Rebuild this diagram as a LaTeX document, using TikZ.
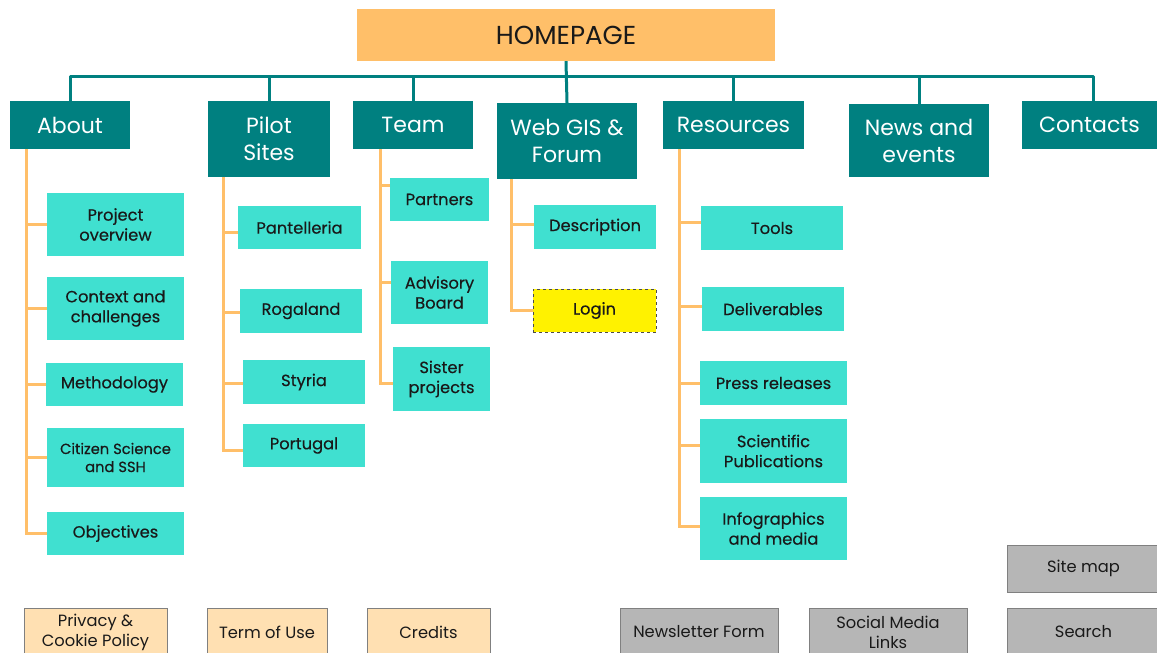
\documentclass[tikz,border=0pt]{standalone}
\usepackage{fontspec}
\setmainfont{Poppins}
\newfontfamily\popmed{Poppins}[FakeBold=0.4]
\definecolor{teal}{RGB}{0,128,128}
\definecolor{turq}{RGB}{64,224,208}
\definecolor{orng}{RGB}{255,191,105}
\definecolor{beige}{RGB}{255,224,178}
\definecolor{greybox}{RGB}{182,182,182}
\definecolor{txt}{RGB}{25,25,25}
\newcommand{\bx}[7]{\node[#1, minimum width={(#4-#2)*1pt}, minimum height={(#5-#3)*1pt}] (#6) at ({(#2+#4)/2},{(#3+#5)/2}) {#7};}
\tikzset{
  x=1pt, y=-1pt,
  base/.style={rectangle, inner sep=0pt, align=center, text=txt},
  home/.style={base, fill=orng, font=\fontsize{26}{30}\selectfont},
  head/.style={base, fill=teal, text=white, font=\fontsize{22}{27}\selectfont},
  child/.style={base, fill=turq, font=\popmed\fontsize{16.3}{20}\selectfont},
  smallchild/.style={child, font=\popmed\fontsize{14.7}{18}\selectfont},
  login/.style={child, fill=yellow, draw=black!70, dashed, line width=0.6pt},
  foot/.style={base, fill=beige, draw=black!50, line width=0.8pt, font=\fontsize{16.3}{20}\selectfont},
  grey/.style={base, fill=greybox, draw=black!50, line width=0.8pt, font=\fontsize{16.3}{20}\selectfont},
  bar/.style={teal, line width=3pt},
  spine/.style={orng, line width=3pt},
}
\begin{document}
\begin{tikzpicture}
\useasboundingbox (0,0) rectangle (1157,653);
% homepage and headers
\bx{home}{357}{9}{775}{61}{home}{HOMEPAGE}
\bx{head}{10}{101}{130}{149}{about}{About}
\bx{head}{208}{101}{330}{177}{pilot}{Pilot\\Sites}
\bx{head}{353}{101}{473}{149}{team}{Team}
\bx{head}{497}{103}{637}{179}{webgis}{Web GIS \&\\Forum}
\bx{head}{663}{101}{804}{149}{res}{Resources}
\bx{head}{849}{104}{989}{177}{news}{News and\\events}
\bx{head}{1022}{101}{1157}{149}{contacts}{Contacts}
% children About
\bx{child}{47}{193}{184}{256}{po}{Project\\overview}
\bx{child}{47}{277}{184}{340}{cc}{Context and\\challenges}
\bx{child}{46}{363}{183}{406}{meth}{Methodology}
\bx{smallchild}{47}{428}{184}{487}{cs}{Citizen Science\\and SSH}
\bx{child}{47}{512}{184}{555}{obj}{Objectives}
% Pilot Sites
\bx{child}{238}{206}{361}{249}{pant}{Pantelleria}
\bx{child}{240}{289}{362}{333}{roga}{Rogaland}
\bx{child}{243}{360}{365}{404}{styr}{Styria}
\bx{child}{243}{424}{365}{467}{port}{Portugal}
% Team
\bx{child}{390}{178}{489}{221}{part}{Partners}
\bx{child}{391}{261}{488}{324}{adv}{Advisory\\Board}
\bx{child}{393}{347}{490}{411}{sis}{Sister\\projects}
% Web GIS
\bx{child}{534}{205}{656}{249}{desc}{Description}
\bx{login}{533}{289}{656}{332}{log}{Login}
% Resources
\bx{child}{701}{206}{843}{250}{tools}{Tools}
\bx{child}{702}{287}{844}{331}{deliv}{Deliverables}
\bx{child}{700}{361}{847}{405}{press}{Press releases}
\bx{child}{700}{419}{847}{483}{sci}{Scientific\\Publications}
\bx{child}{700}{497}{847}{560}{info}{Infographics\\and media}
% footer
\bx{foot}{24}{608}{167}{656}{priv}{Privacy \&\\Cookie Policy}
\bx{foot}{207}{608}{327}{656}{term}{Term of Use}
\bx{foot}{367}{608}{490}{656}{cred}{Credits}
\bx{grey}{620}{608}{778}{656}{newsl}{Newsletter Form}
\bx{grey}{809}{608}{967}{656}{social}{Social Media\\Links}
\bx{grey}{1007}{545}{1160}{592}{sitemap}{Site map}
\bx{grey}{1007}{608}{1160}{656}{search}{Search}
% top bar
\coordinate (bar) at (0,76);
\draw[bar] (home.south) -- (webgis.north);
\draw[bar, line join=round] (about.north) -- (about.north |- bar) -- ([xshift=3.5pt]contacts.north |- bar) -- ([xshift=3.5pt]contacts.north);
\foreach \h in {pilot,team,res,news}{\draw[bar] (\h.north) -- (\h.north |- bar);}
% spines
\coordinate (sa) at (26,149);
\coordinate (sp) at (223,177);
\coordinate (st) at (380,149);
\coordinate (sw) at (511,179);
\coordinate (sr) at (679,149);
\draw[spine] (sa) |- (obj.west);
\foreach \c in {po,cc,meth,cs}{\draw[spine] (\c.west) -- (\c.west -| sa);}
\draw[spine] (sp) |- ([yshift=-5pt]port.west);
\foreach \c/\s in {pant/-5,roga/-1,styr/-1}{\draw[spine] ([yshift=\s pt]\c.west) -- ([yshift=\s pt]\c.west -| sp);}
\draw[spine] (st) |- ([yshift=-4pt]sis.west);
\foreach \c/\s in {part/14,adv/10}{\draw[spine] ([yshift=\s pt]\c.west) -- ([yshift=\s pt]\c.west -| st);}
\draw[spine] (sw) |- (log.west);
\draw[spine] ([yshift=3pt]desc.west) -- ([yshift=3pt]desc.west -| sw);
\draw[spine] (sr) |- ([yshift=2pt]info.west);
\foreach \c/\s in {tools/6,deliv/3,press/0,sci/6}{\draw[spine] ([yshift=\s pt]\c.west) -- ([yshift=\s pt]\c.west -| sr);}
\end{tikzpicture}
\end{document}
